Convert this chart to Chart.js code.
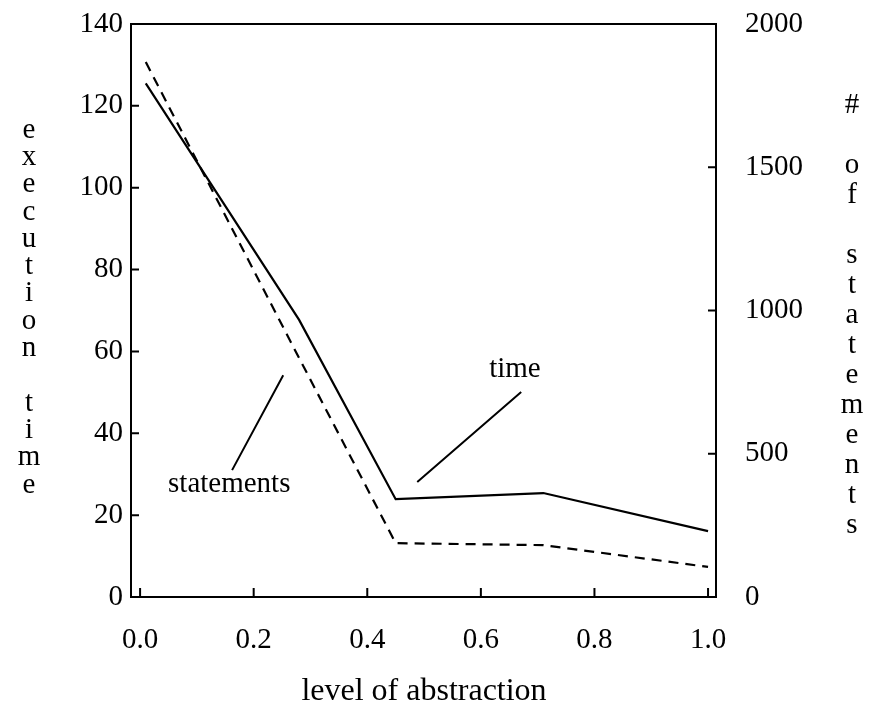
<!DOCTYPE html>
<html>
<head>
<meta charset="utf-8">
<script src="https://cdn.jsdelivr.net/npm/chart.js@4.4.0/dist/chart.umd.min.js"></script>
<style>
  html, body { margin: 0; padding: 0; background: #fff; }
</style>
</head>
<body>
<canvas id="myChart" width="870" height="715"></canvas>
<script>
// level of abstraction vs execution time (left) and # of statements (right)
const abstraction = [0.01, 0.28, 0.45, 0.71, 1.0];
const execTime = [125.5, 67.7, 23.9, 25.4, 16.1];
const statementCount = [1867, 834, 188, 181, 105];

const xTicks = [0.0, 0.2, 0.4, 0.6, 0.8, 1.0];
const timeTicks = [0, 20, 40, 60, 80, 100, 120, 140];
const stmtTicks = [0, 500, 1000, 1500, 2000];

// callout labels and their pointer lines, in data units of the left axis
const notes = [
  { text: "time", x: 0.66, y: 55.5 },
  { text: "statements", x: 0.157, y: 27.4 },
];
const pointers = [
  [0.488, 28.1, 0.671, 50.1],
  [0.162, 31.0, 0.252, 54.2],
];

const FONT = "'Liberation Serif', 'Times New Roman', serif";
Chart.defaults.font.family = FONT;
Chart.defaults.font.size = 29;
Chart.defaults.color = "#000";

const toPoints = (xs, ys) => xs.map((x, i) => ({ x: x, y: ys[i] }));
const setTicks = (vals) => (s) => { s.ticks = vals.map((v) => ({ value: v })); };
const fitWidth = (w) => (s) => {
  s.width = w;
  s.paddingTop = 0;
  s.paddingBottom = 0;
};

const framePlugin = {
  id: "frame",
  afterDraw(chart) {
    const ctx = chart.ctx;
    const a = chart.chartArea;
    const x = chart.scales.x, y = chart.scales.y, y1 = chart.scales.y1;
    ctx.save();
    ctx.strokeStyle = "#000";
    ctx.lineWidth = 2;
    ctx.strokeRect(a.left, a.top, a.right - a.left, a.bottom - a.top);

    // inward tick marks
    ctx.beginPath();
    x.ticks.forEach((t) => {
      const px = x.getPixelForValue(t.value);
      ctx.moveTo(px, a.bottom);
      ctx.lineTo(px, a.bottom - 9);
    });
    y.ticks.forEach((t) => {
      const py = y.getPixelForValue(t.value);
      ctx.moveTo(a.left, py);
      ctx.lineTo(a.left + 8, py);
    });
    y1.ticks.forEach((t) => {
      const py = y1.getPixelForValue(t.value);
      ctx.moveTo(a.right, py);
      ctx.lineTo(a.right - 8, py);
    });
    ctx.stroke();

    // callouts
    ctx.beginPath();
    pointers.forEach((p) => {
      ctx.moveTo(x.getPixelForValue(p[0]), y.getPixelForValue(p[1]));
      ctx.lineTo(x.getPixelForValue(p[2]), y.getPixelForValue(p[3]));
    });
    ctx.stroke();
    ctx.fillStyle = "#000";
    ctx.font = "29px " + FONT;
    ctx.textAlign = "center";
    ctx.textBaseline = "middle";
    notes.forEach((n) => {
      ctx.fillText(n.text, x.getPixelForValue(n.x), y.getPixelForValue(n.y));
    });

    // axis titles
    "execution time".split("").forEach((ch, i) => {
      ctx.fillText(ch, 29, 130 + i * 27.3);
    });
    "# of statements".split("").forEach((ch, i) => {
      ctx.fillText(ch, 852, 105 + i * 30);
    });
    ctx.font = "32px " + FONT;
    ctx.fillText("level of abstraction", 424, 692);
    ctx.restore();
  },
};

const config = {
  type: "line",
  data: {
    datasets: [
      {
        label: "time",
        data: toPoints(abstraction, execTime),
        borderColor: "#000",
        borderWidth: 2.2,
        pointRadius: 0,
        yAxisID: "y",
      },
      {
        label: "statements",
        data: toPoints(abstraction, statementCount),
        borderColor: "#000",
        borderWidth: 2.2,
        borderDash: [10, 7],
        pointRadius: 0,
        yAxisID: "y1",
      },
    ],
  },
  options: {
    responsive: false,
    animation: false,
    layout: { padding: { top: 24, left: 0, right: 0, bottom: 0 } },
    plugins: { legend: { display: false }, tooltip: { enabled: false } },
    scales: {
      x: {
        type: "linear",
        min: -0.016,
        max: 1.014,
        afterBuildTicks: setTicks(xTicks),
        afterFit: (s) => { s.height = 118; s.paddingLeft = 0; s.paddingRight = 0; },
        grid: { display: false, drawTicks: false },
        border: { display: false },
        ticks: { padding: 26, callback: (v) => v.toFixed(1) },
      },
      y: {
        position: "left",
        min: 0,
        max: 140,
        afterBuildTicks: setTicks(timeTicks),
        afterFit: fitWidth(131),
        grid: { display: false, drawTicks: false },
        border: { display: false },
        ticks: { padding: 8 },
      },
      y1: {
        position: "right",
        min: 0,
        max: 2000,
        afterBuildTicks: setTicks(stmtTicks),
        afterFit: fitWidth(154),
        grid: { display: false, drawTicks: false },
        border: { display: false },
        ticks: { padding: 29, callback: (v) => String(v) },
      },
    },
  },
  plugins: [framePlugin],
};

var myChart = new Chart(document.getElementById("myChart"), config);
</script>
</body>
</html>
